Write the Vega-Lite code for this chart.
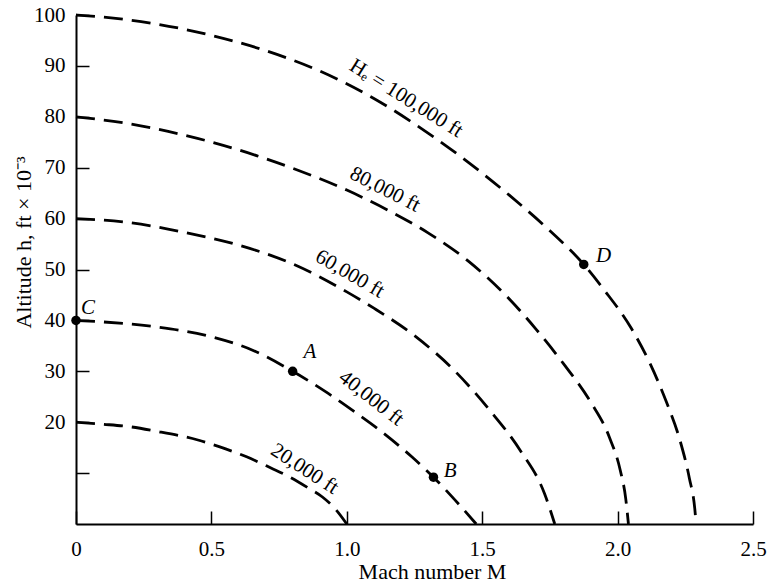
{
  "$schema": "https://vega.github.io/schema/vega-lite/v6.json",
  "width": 677,
  "height": 509,
  "autosize": {"type": "none"},
  "padding": {"left": 76, "top": 15, "right": 23, "bottom": 62},
  "background": "white",
  "config": {
    "view": {"stroke": null},
    "axis": {
      "grid": false,
      "domainColor": "black",
      "domainWidth": 2,
      "tickColor": "black",
      "tickWidth": 1.5,
      "tickSize": -13,
      "labelFlush": false,
      "labelFont": "Liberation Serif",
      "labelFontSize": 21,
      "labelColor": "black",
      "titleFont": "Liberation Serif",
      "titleFontSize": 22,
      "titleFontWeight": "normal",
      "titleColor": "black"
    }
  },
  "datasets": {
    "curves": [
      {"He": 20, "M": 0, "h": 20}, {"He": 20, "M": 0.1, "h": 19.6}, {"He": 20, "M": 0.2, "h": 19.1}, {"He": 20, "M": 0.3, "h": 18.2}, {"He": 20, "M": 0.45, "h": 16.5}, {"He": 20, "M": 0.55, "h": 14.8}, {"He": 20, "M": 0.63, "h": 13.2}, {"He": 20, "M": 0.72, "h": 11.0}, {"He": 20, "M": 0.79, "h": 9.2}, {"He": 20, "M": 0.86, "h": 7.0}, {"He": 20, "M": 0.91, "h": 5.3}, {"He": 20, "M": 0.96, "h": 2.8}, {"He": 20, "M": 1.0, "h": 0},
      {"He": 40, "M": 0, "h": 40}, {"He": 40, "M": 0.1, "h": 39.7}, {"He": 40, "M": 0.3, "h": 38.7}, {"He": 40, "M": 0.5, "h": 36.8}, {"He": 40, "M": 0.65, "h": 34.2}, {"He": 40, "M": 0.8, "h": 30}, {"He": 40, "M": 0.93, "h": 25.7}, {"He": 40, "M": 1.03, "h": 22}, {"He": 40, "M": 1.12, "h": 18.5}, {"He": 40, "M": 1.24, "h": 13.2}, {"He": 40, "M": 1.32, "h": 9.2}, {"He": 40, "M": 1.4, "h": 4.7}, {"He": 40, "M": 1.478, "h": 0},
      {"He": 60, "M": 0, "h": 60}, {"He": 60, "M": 0.2, "h": 59.2}, {"He": 60, "M": 0.4, "h": 57.3}, {"He": 60, "M": 0.6, "h": 54.8}, {"He": 60, "M": 0.8, "h": 51.1}, {"He": 60, "M": 1.0, "h": 45.6}, {"He": 60, "M": 1.1, "h": 42.4}, {"He": 60, "M": 1.25, "h": 37.0}, {"He": 60, "M": 1.4, "h": 30.0}, {"He": 60, "M": 1.53, "h": 22.2}, {"He": 60, "M": 1.64, "h": 14.5}, {"He": 60, "M": 1.73, "h": 6}, {"He": 60, "M": 1.768, "h": 0},
      {"He": 80, "M": 0, "h": 80}, {"He": 80, "M": 0.2, "h": 78.6}, {"He": 80, "M": 0.4, "h": 76.4}, {"He": 80, "M": 0.6, "h": 73.5}, {"He": 80, "M": 0.8, "h": 69.9}, {"He": 80, "M": 1.0, "h": 65.6}, {"He": 80, "M": 1.15, "h": 61.7}, {"He": 80, "M": 1.3, "h": 57.2}, {"He": 80, "M": 1.45, "h": 51.6}, {"He": 80, "M": 1.6, "h": 44.2}, {"He": 80, "M": 1.7, "h": 38.2}, {"He": 80, "M": 1.8, "h": 31.5}, {"He": 80, "M": 1.9, "h": 24}, {"He": 80, "M": 1.97, "h": 17}, {"He": 80, "M": 2.01, "h": 10.5}, {"He": 80, "M": 2.03, "h": 5}, {"He": 80, "M": 2.04, "h": 0},
      {"He": 100, "M": 0, "h": 100}, {"He": 100, "M": 0.1, "h": 99.6}, {"He": 100, "M": 0.3, "h": 98.2}, {"He": 100, "M": 0.5, "h": 96.0}, {"He": 100, "M": 0.7, "h": 93.0}, {"He": 100, "M": 0.9, "h": 89.0}, {"He": 100, "M": 1.1, "h": 83.6}, {"He": 100, "M": 1.3, "h": 76.8}, {"He": 100, "M": 1.45, "h": 71.0}, {"He": 100, "M": 1.6, "h": 64.6}, {"He": 100, "M": 1.75, "h": 57.6}, {"He": 100, "M": 1.875, "h": 51}, {"He": 100, "M": 1.95, "h": 46}, {"He": 100, "M": 2.05, "h": 38.5}, {"He": 100, "M": 2.12, "h": 31.5}, {"He": 100, "M": 2.18, "h": 24}, {"He": 100, "M": 2.23, "h": 16.5}, {"He": 100, "M": 2.265, "h": 9}, {"He": 100, "M": 2.285, "h": 3}, {"He": 100, "M": 2.29, "h": 0}
    ],
    "pts": [
      {"name": "C", "M": 0, "h": 40, "lx": 0.044, "ly": 42.4},
      {"name": "A", "M": 0.8, "h": 30, "lx": 0.864, "ly": 33.8},
      {"name": "B", "M": 1.32, "h": 9.2, "lx": 1.382, "ly": 10.4},
      {"name": "D", "M": 1.875, "h": 51, "lx": 1.948, "ly": 52.7}
    ],
    "lbls": [
      {"He": 100, "text": "Hₑ = 100,000 ft", "M": 1.219, "h": 83.6},
      {"He": 80, "text": "80,000 ft", "M": 1.141, "h": 65.7},
      {"He": 60, "text": "60,000 ft", "M": 1.011, "h": 49.1},
      {"He": 40, "text": "40,000 ft", "M": 1.09, "h": 24.7},
      {"He": 20, "text": "20,000 ft", "M": 0.844, "h": 10.8}
    ]
  },
  "layer": [
    {
      "data": {"name": "curves"},
      "mark": {"type": "line", "color": "black", "strokeWidth": 2.8, "strokeDash": [19, 9], "interpolate": "monotone"},
      "encoding": {
        "x": {
          "field": "M", "type": "quantitative",
          "scale": {"domain": [0, 2.5], "nice": false},
          "axis": {
            "values": [0, 0.5, 1, 1.5, 2, 2.5],
            "labelExpr": "datum.value == 0 ? '0' : format(datum.value, '.1f')",
            "labelPadding": 27,
            "title": "Mach number M",
            "titleX": 356,
            "titleY": 47,
            "titleBaseline": "middle"
          }
        },
        "y": {
          "field": "h", "type": "quantitative",
          "scale": {"domain": [0, 100], "nice": false},
          "axis": {
            "values": [10, 20, 30, 40, 50, 60, 70, 80, 90, 100],
            "labelExpr": "datum.value < 20 ? '' : datum.label",
            "labelPadding": 24,
            "title": "Altitude h, ft × 10⁻³",
            "titleX": -53,
            "titleY": 227,
            "titleBaseline": "middle"
          }
        },
        "detail": {"field": "He", "type": "nominal"}
      }
    },
    {
      "data": {"name": "pts"},
      "mark": {"type": "circle", "color": "black", "size": 90, "opacity": 1},
      "encoding": {
        "x": {"field": "M", "type": "quantitative"},
        "y": {"field": "h", "type": "quantitative"}
      }
    },
    {
      "data": {"name": "pts"},
      "mark": {"type": "text", "font": "Liberation Serif", "fontStyle": "italic", "fontSize": 21, "color": "black", "align": "center", "baseline": "middle"},
      "encoding": {
        "x": {"field": "lx", "type": "quantitative"},
        "y": {"field": "ly", "type": "quantitative"},
        "text": {"field": "name"}
      }
    },
    {
      "data": {"name": "lbls"},
      "transform": [{"filter": "datum.He == 100"}],
      "mark": {"type": "text", "font": "Liberation Serif", "fontSize": 21, "color": "black", "align": "center", "baseline": "middle", "angle": 32},
      "encoding": {"x": {"field": "M", "type": "quantitative"}, "y": {"field": "h", "type": "quantitative"}, "text": {"field": "text"}}
    },
    {
      "data": {"name": "lbls"},
      "transform": [{"filter": "datum.He == 80"}],
      "mark": {"type": "text", "font": "Liberation Serif", "fontSize": 21, "color": "black", "align": "center", "baseline": "middle", "angle": 27},
      "encoding": {"x": {"field": "M", "type": "quantitative"}, "y": {"field": "h", "type": "quantitative"}, "text": {"field": "text"}}
    },
    {
      "data": {"name": "lbls"},
      "transform": [{"filter": "datum.He == 60"}],
      "mark": {"type": "text", "font": "Liberation Serif", "fontSize": 21, "color": "black", "align": "center", "baseline": "middle", "angle": 30},
      "encoding": {"x": {"field": "M", "type": "quantitative"}, "y": {"field": "h", "type": "quantitative"}, "text": {"field": "text"}}
    },
    {
      "data": {"name": "lbls"},
      "transform": [{"filter": "datum.He == 40"}],
      "mark": {"type": "text", "font": "Liberation Serif", "fontSize": 21, "color": "black", "align": "center", "baseline": "middle", "angle": 38},
      "encoding": {"x": {"field": "M", "type": "quantitative"}, "y": {"field": "h", "type": "quantitative"}, "text": {"field": "text"}}
    },
    {
      "data": {"name": "lbls"},
      "transform": [{"filter": "datum.He == 20"}],
      "mark": {"type": "text", "font": "Liberation Serif", "fontSize": 21, "color": "black", "align": "center", "baseline": "middle", "angle": 33},
      "encoding": {"x": {"field": "M", "type": "quantitative"}, "y": {"field": "h", "type": "quantitative"}, "text": {"field": "text"}}
    }
  ]
}
